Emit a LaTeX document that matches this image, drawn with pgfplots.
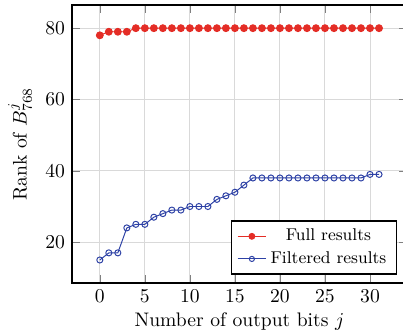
\documentclass[border=0pt]{standalone}
\usepackage{pgfplots}
\pgfplotsset{compat=1.18}
\definecolor{myred}{RGB}{228,45,38}
\definecolor{myblue}{RGB}{45,65,165}
\begin{document}
\begin{tikzpicture}
\begin{axis}[
  scale only axis,
  width=171pt, height=142pt,
  xmin=-3.1, xmax=34.1, ymin=8.5, ymax=86.5,
  xtick={0,5,...,30}, ytick={20,40,60,80},
  grid=major,
  grid style={gray!30, line width=0.5pt},
  axis line style={line width=0.8pt},
  xlabel={Number of output bits $j$},
  xlabel style={yshift=2pt},
  ylabel={Rank of $B_{768}^{j}$},
  legend pos=south east,
  legend cell align=center,
  legend style={draw=black, line width=0.7pt, font=\fontsize{8.7}{10}\selectfont},
  legend image post style={scale=0.85},
]
\addplot[color=myred, line width=0.5pt, mark=*, mark size=1.75pt, mark options={fill=myred}] coordinates {
(0,78)(1,79)(2,79)(3,79)(4,80)(5,80)(6,80)(7,80)(8,80)(9,80)(10,80)(11,80)(12,80)(13,80)(14,80)(15,80)
(16,80)(17,80)(18,80)(19,80)(20,80)(21,80)(22,80)(23,80)(24,80)(25,80)(26,80)(27,80)(28,80)(29,80)(30,80)(31,80)};
\addlegendentry{Full results}
\addplot[color=myblue, line width=0.5pt, mark=o, mark size=1.55pt] coordinates {
(0,15)(1,17)(2,17)(3,24)(4,25)(5,25)(6,27)(7,28)(8,29)(9,29)(10,30)(11,30)(12,30)(13,32)(14,33)(15,34)
(16,36)(17,38)(18,38)(19,38)(20,38)(21,38)(22,38)(23,38)(24,38)(25,38)(26,38)(27,38)(28,38)(29,38)(30,39)(31,39)};
\addlegendentry{Filtered results}
\end{axis}
\pgfresetboundingbox
\useasboundingbox ([xshift=-36.7pt,yshift=-24.5pt] current axis.south west) rectangle ([xshift=-2pt,yshift=2.55pt] current axis.north east);
\end{tikzpicture}
\end{document}
